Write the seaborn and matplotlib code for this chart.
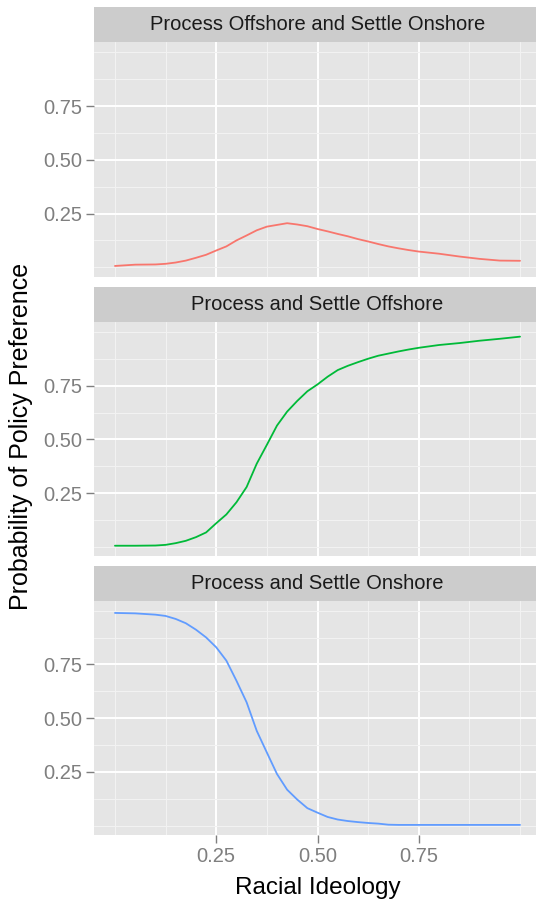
import numpy as np
import pandas as pd
import matplotlib
matplotlib.use("Agg")
import matplotlib.pyplot as plt
import seaborn as sns

# Predicted probabilities of each policy preference across racial ideology
ideology = [0.0, 0.05, 0.10, 0.125, 0.15, 0.175, 0.20, 0.225, 0.25, 0.275,
            0.30, 0.325, 0.35, 0.375, 0.40, 0.425, 0.45, 0.475, 0.50, 0.525,
            0.55, 0.575, 0.60, 0.625, 0.65, 0.675, 0.70, 0.725, 0.75, 0.80,
            0.85, 0.90, 0.95, 1.00]

offshore_onshore = [0.006, 0.012, 0.013, 0.016, 0.022, 0.031, 0.044, 0.058, 0.078, 0.097,
                    0.125, 0.148, 0.172, 0.189, 0.197, 0.205, 0.199, 0.191, 0.178, 0.167,
                    0.155, 0.144, 0.131, 0.120, 0.108, 0.097, 0.088, 0.080, 0.073, 0.063,
                    0.050, 0.039, 0.031, 0.030]

settle_offshore = [0.004, 0.004, 0.005, 0.008, 0.016, 0.027, 0.044, 0.066, 0.109, 0.150,
                   0.207, 0.278, 0.387, 0.475, 0.565, 0.630, 0.680, 0.725, 0.757, 0.793,
                   0.824, 0.844, 0.861, 0.877, 0.891, 0.901, 0.911, 0.920, 0.928, 0.941,
                   0.950, 0.961, 0.970, 0.980]

settle_onshore = [0.990, 0.988, 0.982, 0.976, 0.962, 0.942, 0.912, 0.876, 0.830, 0.768,
                  0.674, 0.574, 0.441, 0.340, 0.240, 0.167, 0.121, 0.081, 0.060, 0.040,
                  0.028, 0.021, 0.016, 0.012, 0.009, 0.004, 0.003, 0.003, 0.003, 0.003,
                  0.003, 0.003, 0.003, 0.003]

policies = ["Process Offshore and Settle Onshore",
            "Process and Settle Offshore",
            "Process and Settle Onshore"]
series = [offshore_onshore, settle_offshore, settle_onshore]
colors = ["#F8766D", "#00BA38", "#619CFF"]

y_ticks = [0.25, 0.50, 0.75]
x_ticks = [0.25, 0.50, 0.75]
tick_labels = ["0.25", "0.50", "0.75"]
minor_ticks = [0.0, 0.125, 0.375, 0.625, 0.875, 1.0]

df = pd.concat(
    [pd.DataFrame({"ideology": ideology, "prob": vals, "policy": name})
     for name, vals in zip(policies, series)],
    ignore_index=True,
)

sns.set_theme(style="darkgrid")
plt.rcParams["font.family"] = ["Liberation Sans", "DejaVu Sans"]

W, H = 536, 907
fig = plt.figure(figsize=(W / 100, H / 100), dpi=100)
fig.patch.set_facecolor("white")

# panel top / bottom edges and strip tops, in pixels from the top
panels = [(42.3, 276.7, 7.3), (322.3, 556.0, 287.0), (600.7, 835.0, 566.0)]
left_px, right_px = 94.3, 540.7

tick_color = "#7F7F7F"
for i, (name, color) in enumerate(zip(policies, colors)):
    top, bot, stop = panels[i]
    ax = fig.add_axes([left_px / W, 1 - bot / H, (right_px - left_px) / W, (bot - top) / H])
    sub = df[df["policy"] == name]
    sns.lineplot(data=sub, x="ideology", y="prob", color=color, linewidth=1.3,
                 ax=ax, legend=False)
    ax.set_facecolor("#E5E5E5")
    ax.set_xlim(-0.051, 1.051)
    ax.set_ylim(-0.044, 1.047)
    ax.set_xticks(x_ticks)
    ax.set_xticks(minor_ticks, minor=True)
    ax.set_yticks(y_ticks)
    ax.set_yticks(minor_ticks, minor=True)
    ax.grid(which="major", color="white", linewidth=1.4)
    ax.grid(which="minor", color="#F2F2F2", linewidth=0.8)
    ax.set_axisbelow(True)
    for s in ax.spines.values():
        s.set_visible(False)
    ax.set_xlabel("")
    ax.set_ylabel("")
    ax.set_yticklabels(tick_labels)
    ax.tick_params(axis="y", which="major", length=5.5, width=1.0, color=tick_color,
                   labelsize=14.5, labelcolor=tick_color, pad=3.5, left=True)
    ax.tick_params(which="minor", length=0)
    if i == 2:
        ax.set_xticklabels(tick_labels)
        ax.tick_params(axis="x", which="major", length=5.5, width=1.0, color=tick_color,
                       labelsize=14.5, labelcolor=tick_color, pad=3.0, bottom=True)
    else:
        ax.tick_params(axis="x", which="major", length=0, labelbottom=False)

    # facet strip
    sax = fig.add_axes([left_px / W, 1 - top / H, (right_px - left_px) / W, (top - stop) / H])
    sax.set_facecolor("#CCCCCC")
    sax.set_xticks([])
    sax.set_yticks([])
    sax.grid(False)
    for s in sax.spines.values():
        s.set_visible(False)
    sax.text(0.5, 0.5, name, ha="center", va="center", fontsize=14.5,
             color="#1A1A1A", transform=sax.transAxes)

fig.text((left_px + right_px) / 2 / W, 1 - 888 / H, "Racial Ideology",
         ha="center", va="center", fontsize=17.5, color="black")
fig.text(21 / W, 1 - 436 / H, "Probability of Policy Preference",
         ha="center", va="center", rotation=90, fontsize=18, color="black")

fig.savefig("out.png", dpi=100)
